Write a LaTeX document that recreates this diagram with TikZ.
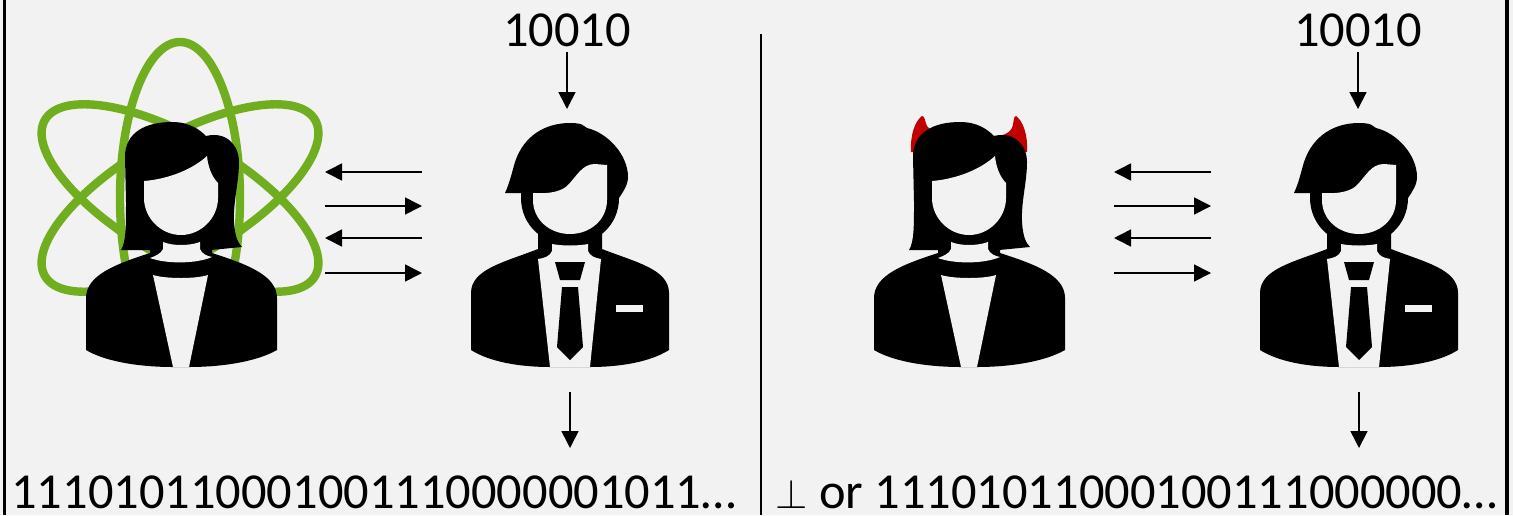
\documentclass[tikz,border=0pt]{standalone}
\usepackage{fontspec}
\setmainfont{Carlito}
\usetikzlibrary{arrows.meta}

\definecolor{panelgray}{HTML}{F2F2F2}
\definecolor{atomgreen}{RGB}{112,173,31}
\definecolor{hornred}{RGB}{192,0,0}

\tikzset{
  msg/.style={line width=0.8pt, -{Triangle[length=8.5pt,width=8.5pt]}},
  orbit/.style={draw=atomgreen, line width=4.2pt},
  bits/.style={font=\fontsize{25.2}{30}\selectfont, inner sep=0pt},
  % woman silhouette, origin at the bottom centre of the body
  woman/.pic={
    % hair
    \fill[black] (-60,-117) .. controls (-55,-125) and (-55,-140) .. (-55,-165)
      -- (-56,-210) .. controls (-56,-235) and (-35,-245) .. (-9,-245)
      .. controls (8,-245) and (18,-238) .. (25,-231)
      .. controls (45,-236) and (58,-222) .. (58,-205)
      .. controls (58,-185) and (52,-165) .. (53,-145)
      .. controls (54,-130) and (57,-124) .. (61,-120) -- (30,-117) -- cycle;
    % shoulders and neck
    \fill[black] (-95,-17) -- (-95,-69) .. controls (-95,-92) and (-65,-103) .. (-31,-114)
      -- (-31,-120) -- (31,-120) -- (31,-114)
      .. controls (65,-103) and (96,-92) .. (96,-69) -- (96,-17)
      .. controls (75,-5) and (40,0) .. (8,0) -- (-8,0)
      .. controls (-40,0) and (-75,-5) .. (-95,-17) -- cycle;
    % face
    \fill[panelgray] (-37,-186) .. controls (-12,-188) and (12,-198) .. (26,-211)
      .. controls (27,-200) and (31,-190) .. (37,-184) -- (37,-169)
      .. controls (37,-149) and (20,-132) .. (0,-132)
      .. controls (-20,-132) and (-37,-149) .. (-37,-169) -- cycle;
    % gap between chin and collar
    \fill[panelgray] (-18,-125) .. controls (-8,-121) and (8,-121) .. (19,-125)
      -- (19,-118) .. controls (21,-113) and (26,-111) .. (31,-110)
      .. controls (15,-103) and (-15,-103) .. (-31,-109)
      .. controls (-26,-111) and (-20,-113) .. (-18,-118) -- cycle;
    % neckline
    \fill[panelgray] (-28,-92) .. controls (-15,-88) and (15,-88) .. (27,-92)
      -- (8,0) -- (-8,0) -- cycle;
  },
  % a pair of horns, same origin as the woman
  horns/.pic={
    \fill[hornred] (-58,-215) .. controls (-59,-232) and (-54,-246) .. (-47,-251)
      .. controls (-44,-251) and (-44,-245) .. (-42,-241)
      .. controls (-38,-236) and (-34,-233) .. (-28,-230) -- (-40,-215) -- cycle;
    \fill[hornred] (58,-215) .. controls (59,-232) and (54,-246) .. (47,-251)
      .. controls (44,-251) and (45,-243) .. (43,-239)
      .. controls (40,-233) and (33,-231) .. (24,-231) -- (40,-215) -- cycle;
  },
  % man in a suit, origin at the bottom centre of the body
  suitman/.pic={
    % hair and head outline
    \fill[black] (-65,-174) .. controls (-60,-185) and (-58,-195) .. (-55,-205)
      .. controls (-46,-232) and (-24,-244) .. (0,-244)
      .. controls (8,-244) and (12,-243) .. (14,-241) -- (17,-239)
      .. controls (38,-234) and (58,-212) .. (58,-190)
      .. controls (58,-182) and (53,-175) .. (49,-169)
      .. controls (49,-142) and (27,-122) .. (0,-122)
      .. controls (-27,-122) and (-49,-142) .. (-49,-169) -- (-49,-174) -- cycle;
    % jacket
    \fill[black] (-99,-17) -- (-99,-74) .. controls (-99,-98) and (-65,-105) .. (-32,-118)
      -- (-32,-135) -- (32,-135) -- (32,-118)
      .. controls (65,-105) and (99,-98) .. (99,-74) -- (99,-17)
      .. controls (80,-5) and (50,0) .. (20,0) -- (-20,0)
      .. controls (-50,0) and (-80,-5) .. (-99,-17) -- cycle;
    % face
    \fill[panelgray] (-37,-174) .. controls (-22,-173) and (-10,-175) .. (-3,-181)
      .. controls (7,-191) and (12,-203) .. (25,-203) -- (37,-202) -- (37,-167)
      .. controls (37,-147) and (20,-133) .. (0,-133)
      .. controls (-20,-133) and (-37,-147) .. (-37,-167) -- cycle;
    % shirt
    \fill[panelgray] (-18,-123) .. controls (-8,-121) and (8,-121) .. (18,-123)
      -- (18,-116) .. controls (20,-111) and (25,-109) .. (31,-108)
      -- (20,0) -- (-20,0) -- (-32,-108)
      .. controls (-25,-109) and (-20,-111) .. (-18,-116) -- cycle;
    % tie
    \fill[black] (-15,-105) -- (15,-105) -- (10,-87) -- (-10,-87) -- cycle;
    \fill[black] (-8,-80) -- (8,-80) -- (13,-20) -- (0,-7) -- (-13,-20) -- cycle;
    % pocket square
    \fill[panelgray] (46,-62) rectangle (73,-55);
  },
}

\begin{document}
\begin{tikzpicture}[x=0.5pt, y=-0.5pt]
  \useasboundingbox (0,0) rectangle (1513,515);
  \fill[panelgray] (0,0) rectangle (1513,515);

  % frame sides and the divider between the two scenes
  \draw[line width=1.35pt] (4.7,0) -- (4.7,515);
  \draw[line width=2pt] (1507,0) -- (1507,515);
  \coordinate (divtop) at (761,34);
  \coordinate (divbot) at (761,515);
  \draw[line width=0.65pt] (divtop) -- (divbot);

  % quantum sender: atom behind the woman
  \foreach \ang in {0,60,-60}
    \draw[orbit, rotate around={\ang:(180,198)}] (180,198) ellipse [x radius=60, y radius=156];
  \pic at (181,367) {woman};

  % dishonest sender: woman with horns
  \pic at (969,367) {horns};
  \pic at (969,367) {woman};

  % receivers
  \pic at (570,367) {suitman};
  \pic at (1359,367) {suitman};

  % inputs
  \node[bits, anchor=base] (in1) at (567,46) {10010};
  \node[bits, anchor=base] (in2) at (1358,46) {10010};
  \coordinate (in1foot) at (567,52);
  \coordinate (in2foot) at (1358,52);
  \coordinate (bob1head) at (567,109);
  \coordinate (bob2head) at (1358,109);
  \draw[msg] (in1foot) -- (bob1head);
  \draw[msg] (in2foot) -- (bob2head);

  % outputs
  \node[bits, anchor=base west] (out1) at (11,508) {111010110001001110000001011…};
  \node[bits, anchor=base west] (out2) at (775,508) {{\fontsize{21}{21}\selectfont$\perp$} or 11101011000100111000000…};
  \coordinate (bob1feet) at (570,392);
  \coordinate (bob2feet) at (1359,392);
  \coordinate (out1top) at (570,448);
  \coordinate (out2top) at (1359,448);
  \draw[msg] (bob1feet) -- (out1top);
  \draw[msg] (bob2feet) -- (out2top);

  % message exchange
  \foreach \k/\yy in {1/172,2/206,3/238,4/273}{
    \coordinate (alice1-\k) at (325,\yy);
    \coordinate (bob1-\k) at (422,\yy);
    \coordinate (alice2-\k) at (1114,\yy);
    \coordinate (bob2-\k) at (1211,\yy);
  }
  \draw[msg] (bob1-1) -- (alice1-1);
  \draw[msg] (alice1-2) -- (bob1-2);
  \draw[msg] (bob1-3) -- (alice1-3);
  \draw[msg] (alice1-4) -- (bob1-4);
  \draw[msg] (bob2-1) -- (alice2-1);
  \draw[msg] (alice2-2) -- (bob2-2);
  \draw[msg] (bob2-3) -- (alice2-3);
  \draw[msg] (alice2-4) -- (bob2-4);
\end{tikzpicture}
\end{document}
